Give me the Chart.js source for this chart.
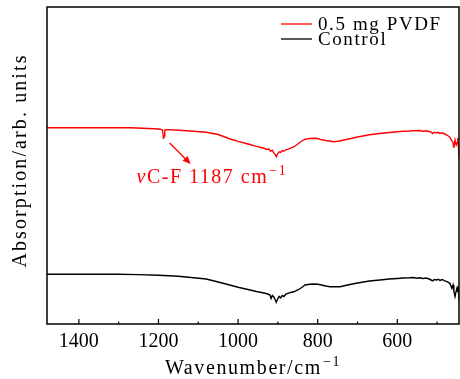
<!DOCTYPE html>
<html>
<head>
<meta charset="utf-8">
<script src="https://cdn.jsdelivr.net/npm/chart.js@4/dist/chart.umd.min.js"></script>
<style>
  html, body { margin: 0; padding: 0; background: #fff; }
  #c { display: block; }
</style>
</head>
<body>
<canvas id="c" width="460" height="379"></canvas>
<script>
// FTIR spectra: wavenumber (cm^-1) and absorption (arb. units)
const pvdfWavenumber = [1480, 1400, 1320, 1270, 1240, 1210, 1195, 1190, 1188, 1187, 1186, 1184, 1175, 1150, 1120, 1080, 1050, 1020, 1000, 975, 954, 945, 935, 928, 922, 918, 914, 910, 906, 904, 901, 897, 893, 889, 885, 880, 874, 868, 860, 850, 840, 832, 820, 810, 800, 790, 780, 770, 760, 745, 725, 700, 670, 644, 620, 600, 585, 570, 560, 551, 545, 535, 528, 520, 515, 511, 507, 501, 497, 493, 487, 481, 475, 468, 463, 460, 458, 455, 452, 450, 448, 446, 445];
const pvdfAbsorption = [1.963, 1.963, 1.963, 1.962, 1.958, 1.952, 1.948, 1.940, 1.880, 1.850, 1.880, 1.942, 1.944, 1.938, 1.930, 1.917, 1.895, 1.850, 1.826, 1.800, 1.776, 1.768, 1.758, 1.745, 1.750, 1.728, 1.738, 1.712, 1.690, 1.672, 1.700, 1.722, 1.715, 1.735, 1.728, 1.742, 1.748, 1.758, 1.770, 1.800, 1.830, 1.847, 1.855, 1.858, 1.855, 1.842, 1.835, 1.830, 1.822, 1.830, 1.848, 1.870, 1.893, 1.905, 1.915, 1.922, 1.928, 1.930, 1.934, 1.932, 1.935, 1.928, 1.932, 1.925, 1.918, 1.904, 1.918, 1.910, 1.916, 1.906, 1.912, 1.900, 1.890, 1.867, 1.835, 1.813, 1.760, 1.840, 1.790, 1.810, 1.860, 1.750, 1.660];

const controlWavenumber = [1480, 1400, 1300, 1250, 1200, 1150, 1080, 1040, 1000, 975, 954, 935, 925, 920, 917, 914, 910, 906, 904, 901, 897, 893, 889, 885, 880, 870, 860, 850, 840, 832, 820, 810, 800, 790, 780, 769, 760, 744, 725, 700, 670, 644, 620, 600, 585, 570, 560, 551, 545, 535, 528, 520, 515, 511, 507, 501, 497, 493, 487, 481, 475, 468, 463, 460, 458, 455, 452, 450, 448, 446, 445];
const controlAbsorption = [0.497, 0.497, 0.497, 0.494, 0.488, 0.478, 0.450, 0.410, 0.367, 0.345, 0.325, 0.310, 0.300, 0.290, 0.255, 0.285, 0.270, 0.235, 0.217, 0.245, 0.275, 0.260, 0.285, 0.275, 0.298, 0.313, 0.322, 0.340, 0.365, 0.390, 0.397, 0.400, 0.397, 0.390, 0.380, 0.373, 0.372, 0.373, 0.390, 0.410, 0.430, 0.440, 0.450, 0.455, 0.460, 0.462, 0.465, 0.457, 0.462, 0.455, 0.460, 0.450, 0.440, 0.432, 0.445, 0.440, 0.448, 0.436, 0.445, 0.432, 0.423, 0.407, 0.357, 0.390, 0.330, 0.273, 0.330, 0.360, 0.320, 0.380, 0.230];

const seriesLabels = ['0.5 mg PVDF', 'Control'];
const seriesColors = ['#ff0000', '#000000'];

const majorTicks = [1400, 1200, 1000, 800, 600];
const minorTicks = [1300, 1100, 900, 700, 500];

const yTitle = 'Absorption/arb. units';
const xTitle = { main: 'Wavenumber/cm', sup: '−1' };

// C-F stretching mark
const peakLabel = { greek: 'ν', text: 'C-F 1187 cm', sup: '−1' };
const peakText = { wn: 1255, abs: 1.41 };
const peakArrow = { fromWn: 1172, fromAbs: 1.81, toWn: 1119, toAbs: 1.60 };

const FONT = "'Liberation Serif', 'DejaVu Serif', serif";

function toPoints(xs, ys) { return xs.map((x, i) => ({ x: x, y: ys[i] })); }

function setSpacing(ctx, px) { if ('letterSpacing' in ctx) ctx.letterSpacing = px + 'px'; }

const overlay = {
  id: 'overlay',
  afterDraw(chart) {
    const ctx = chart.ctx;
    const a = chart.chartArea;
    const xs = chart.scales.x, ys = chart.scales.y;
    ctx.save();

    // frame
    ctx.strokeStyle = '#000';
    ctx.lineWidth = 1.5;
    ctx.strokeRect(a.left, a.top, a.right - a.left, a.bottom - a.top);

    // inward tick marks on the bottom axis
    ctx.lineWidth = 1.2;
    xs.ticks.forEach(t => {
      const px = xs.getPixelForValue(t.value);
      const len = majorTicks.includes(t.value) ? 5 : 2.5;
      ctx.beginPath();
      ctx.moveTo(px, a.bottom);
      ctx.lineTo(px, a.bottom - len);
      ctx.stroke();
    });

    // x axis title with superscript
    ctx.fillStyle = '#000';
    ctx.textBaseline = 'alphabetic';
    ctx.textAlign = 'left';
    setSpacing(ctx, 1.6);
    ctx.font = '20px ' + FONT;
    const w1 = ctx.measureText(xTitle.main).width;
    ctx.font = '14px ' + FONT;
    const w2 = ctx.measureText(xTitle.sup).width;
    const cx = (a.left + a.right) / 2;
    const sx = cx - (w1 + w2 + 1) / 2;
    ctx.font = '20px ' + FONT;
    ctx.fillText(xTitle.main, sx, 374);
    ctx.font = '14px ' + FONT;
    ctx.fillText(xTitle.sup, sx + w1 + 1, 366);

    // y axis title, rotated
    ctx.save();
    setSpacing(ctx, 2.1);
    ctx.font = '20px ' + FONT;
    ctx.translate(21, (a.top + a.bottom) / 2 - 5);
    ctx.rotate(-Math.PI / 2);
    ctx.textAlign = 'center';
    ctx.textBaseline = 'middle';
    ctx.fillText(yTitle, 0, 0);
    ctx.restore();

    // legend
    const legX = 281, legLen = 31, legY = [24, 39];
    chart.data.datasets.forEach((ds, i) => {
      ctx.strokeStyle = ds.borderColor;
      ctx.lineWidth = 1.3;
      ctx.beginPath();
      ctx.moveTo(legX, legY[i]);
      ctx.lineTo(legX + legLen, legY[i]);
      ctx.stroke();
      ctx.fillStyle = '#000';
      setSpacing(ctx, 1.6);
      ctx.font = '19px ' + FONT;
      ctx.textBaseline = 'middle';
      ctx.textAlign = 'left';
      ctx.fillText(ds.label, legX + legLen + 6, legY[i] + 1);
    });

    // peak annotation: arrow and label
    const red = seriesColors[0];
    const x0 = xs.getPixelForValue(peakArrow.fromWn), y0 = ys.getPixelForValue(peakArrow.fromAbs);
    const x1 = xs.getPixelForValue(peakArrow.toWn), y1 = ys.getPixelForValue(peakArrow.toAbs);
    const ang = Math.atan2(y1 - y0, x1 - x0);
    ctx.strokeStyle = red;
    ctx.fillStyle = red;
    ctx.lineWidth = 1.3;
    ctx.beginPath();
    ctx.moveTo(x0, y0);
    ctx.lineTo(x1 - 5 * Math.cos(ang), y1 - 5 * Math.sin(ang));
    ctx.stroke();
    ctx.beginPath();
    ctx.moveTo(x1, y1);
    ctx.lineTo(x1 - 8 * Math.cos(ang) + 3.5 * Math.sin(ang), y1 - 8 * Math.sin(ang) - 3.5 * Math.cos(ang));
    ctx.lineTo(x1 - 8 * Math.cos(ang) - 3.5 * Math.sin(ang), y1 - 8 * Math.sin(ang) + 3.5 * Math.cos(ang));
    ctx.closePath();
    ctx.fill();

    const tx = xs.getPixelForValue(peakText.wn), ty = ys.getPixelForValue(peakText.abs);
    ctx.textBaseline = 'alphabetic';
    ctx.textAlign = 'left';
    setSpacing(ctx, 1.5);
    ctx.font = 'italic 20px ' + FONT;
    ctx.fillText(peakLabel.greek, tx, ty);
    let ox = tx + ctx.measureText(peakLabel.greek).width;
    ctx.font = '20px ' + FONT;
    ctx.fillText(peakLabel.text, ox, ty);
    ox += ctx.measureText(peakLabel.text).width + 1;
    ctx.font = '14px ' + FONT;
    ctx.fillText(peakLabel.sup, ox, ty - 8);

    ctx.restore();
  }
};

new Chart(document.getElementById('c'), {
  type: 'line',
  data: {
    datasets: [
      { label: seriesLabels[0], data: toPoints(pvdfWavenumber, pvdfAbsorption), borderColor: seriesColors[0], borderWidth: 1.4, pointRadius: 0, tension: 0, fill: false },
      { label: seriesLabels[1], data: toPoints(controlWavenumber, controlAbsorption), borderColor: seriesColors[1], borderWidth: 1.4, pointRadius: 0, tension: 0, fill: false }
    ]
  },
  options: {
    responsive: false,
    animation: false,
    parsing: false,
    layout: { padding: { top: 7, right: 1, left: 0, bottom: 0 } },
    plugins: { legend: { display: false }, tooltip: { enabled: false } },
    scales: {
      x: {
        type: 'linear',
        reverse: true,
        min: 445,
        max: 1480,
        afterBuildTicks: s => { s.ticks = majorTicks.concat(minorTicks).sort((p, q) => q - p).map(v => ({ value: v })); },
        afterFit: s => { s.height = 55; },
        ticks: {
          autoSkip: false,
          maxRotation: 0,
          padding: 6,
          color: '#000',
          font: { family: FONT, size: 20 },
          callback: v => majorTicks.includes(v) ? String(v) : ''
        },
        grid: { display: false, drawTicks: false },
        border: { display: false }
      },
      y: {
        min: 0,
        max: 3.17,
        afterFit: s => { s.width = 47; },
        ticks: { display: false },
        grid: { display: false, drawTicks: false },
        border: { display: false },
        title: { display: false }
      }
    }
  },
  plugins: [overlay]
});
</script>
</body>
</html>
